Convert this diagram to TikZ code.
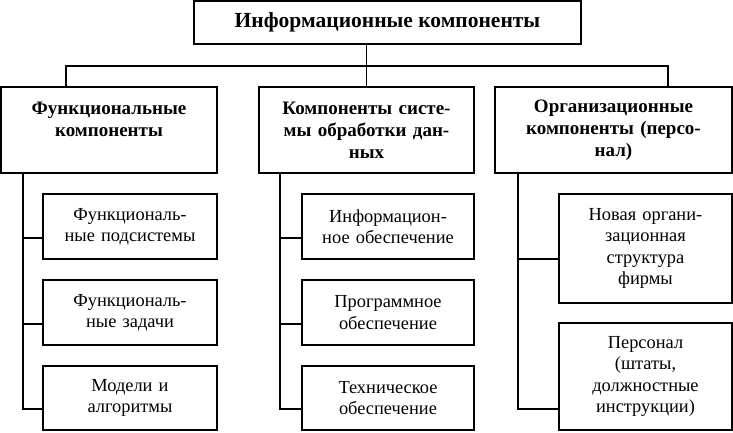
\documentclass[tikz,border=0pt]{standalone}
\usepackage{fontspec}
\setmainfont{Liberation Serif}
\begin{document}
\begin{tikzpicture}[x=1pt,y=-1pt,
  box/.style={draw,line width=1.1pt,align=center,inner sep=0pt,anchor=center},
  bbox/.style={box,font=\fontsize{19}{22}\selectfont\bfseries},
  cbox/.style={box,font=\fontsize{18.4}{21.3}\selectfont},
  conn/.style={line width=1.6pt}]
\useasboundingbox (0,0) rectangle (733,432);
\node[box,font=\fontsize{21.5}{24}\selectfont\bfseries,minimum width=387pt,minimum height=43pt] (top) at (387.5,22.5) {Информационные компоненты};
\node[bbox,minimum width=216pt,minimum height=86pt,text width=210pt] (L) at (109,130) {Функциональные\\компоненты\\~};
\node[bbox,minimum width=215pt,minimum height=86pt,text width=210pt] (M) at (366.5,130) {Компоненты систе-\\мы обработки дан-\\ных};
\node[bbox,minimum width=237pt,minimum height=86pt,text width=230pt] (R) at (613.5,130) {Организационные\\компоненты (персо-\\нал)};
% left children
\node[cbox,minimum width=174pt,minimum height=65pt,text width=170pt] (L1) at (130,226.5) {Функциональ-\\ные подсистемы};
\node[cbox,minimum width=174pt,minimum height=65pt,text width=170pt] (L2) at (130,312.5) {Функциональ-\\ные задачи};
\node[cbox,minimum width=174pt,minimum height=64pt,text width=170pt] (L3) at (130,398) {Модели и\\алгоритмы};
% middle children
\node[cbox,minimum width=172pt,minimum height=65pt,text width=168pt] (M1) at (388,226.5) {Информацион-\\ное обеспечение};
\node[cbox,minimum width=172pt,minimum height=65pt,text width=168pt] (M2) at (388,312.5) {Программное\\обеспечение};
\node[cbox,minimum width=172pt,minimum height=64pt,text width=168pt] (M3) at (388,398) {Техническое\\обеспечение};
% right children
\node[cbox,minimum width=173pt,minimum height=109pt,text width=168pt] (R1) at (645.5,248.5) {Новая органи-\\зационная\\структура\\фирмы};
\node[cbox,minimum width=173pt,minimum height=107pt,text width=168pt] (R2) at (645.5,376.5) {Персонал\\(штаты,\\должностные\\инструкции)};
% bus
\coordinate (busL) at (66,66);
\coordinate (busR) at (668,66);
\draw[conn] (L.north -| busL) -- (busL) -- (busR) -- (R.north -| busR);
\draw[conn] (top.south -| M.north) -- (M.north);
% trunks
\coordinate (tL) at (23,0);
\coordinate (tM) at (280,0);
\coordinate (tR) at (518,0);
\draw[conn] (L.south -| tL) |- ([yshift=-11pt]L3.west);
\draw[conn] (tL |- L1.west) ++(0,11.5) -- ([yshift=-11.5pt]L1.west);
\draw[conn] (tL |- L2.west) ++(0,11.5) -- ([yshift=-11.5pt]L2.west);
\draw[conn] (M.south -| tM) |- ([yshift=-11pt]M3.west);
\draw[conn] (tM |- M1.west) ++(0,11.5) -- ([yshift=-11.5pt]M1.west);
\draw[conn] (tM |- M2.west) ++(0,11.5) -- ([yshift=-11.5pt]M2.west);
\draw[conn] (R.south -| tR) |- ([yshift=-32.5pt]R2.west);
\draw[conn] (tR |- R1.west) ++(0,10.5) -- ([yshift=-10.5pt]R1.west);
\end{tikzpicture}
\end{document}
